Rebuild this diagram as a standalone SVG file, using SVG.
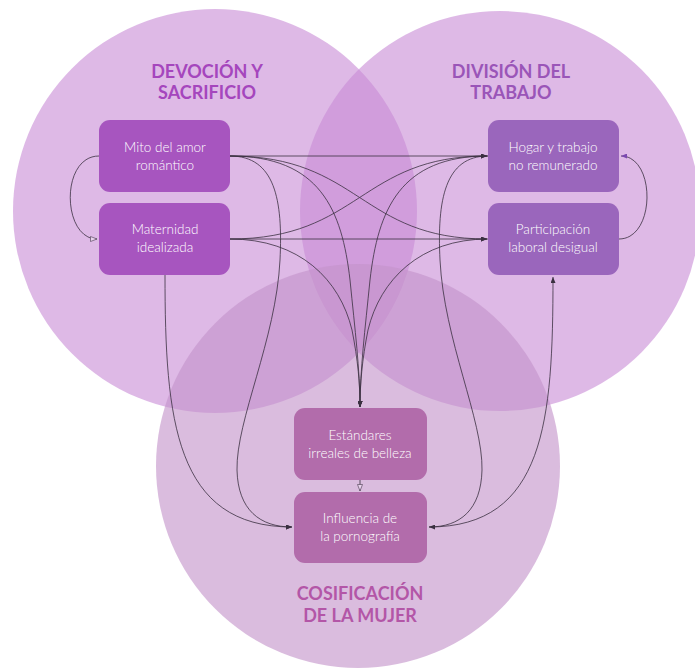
<svg xmlns="http://www.w3.org/2000/svg" width="695" height="669" viewBox="0 0 695 669">
<style>
.c1{fill:#c88ad6;opacity:0.6}
.c2{fill:#c88ad6;opacity:0.6}
.c3{fill:#c493c9;opacity:0.62}
.title{font-family:Lato,"Liberation Sans",sans-serif;font-weight:700;font-size:18px;text-anchor:middle}
.lbl{font-family:Lato,"Liberation Sans",sans-serif;font-weight:300;font-size:13.5px;fill:#ffffff;text-anchor:middle}
.ln{fill:none;stroke:#3a3040;stroke-width:0.8}
</style>
<defs>
<marker id="ah" viewBox="0 0 6 5" refX="6" refY="2.5" markerWidth="6" markerHeight="5" markerUnits="userSpaceOnUse" orient="auto"><path d="M0,0 L6,2.5 L0,5 z" fill="#3a3040"/></marker>
<marker id="ahp" viewBox="0 0 6 5" refX="6" refY="2.5" markerWidth="6" markerHeight="5" markerUnits="userSpaceOnUse" orient="auto"><path d="M0,0 L6,2.5 L0,5 z" fill="#7b48b0"/></marker>
<marker id="aho" viewBox="0 0 8 6" refX="7" refY="3" markerWidth="8" markerHeight="6" markerUnits="userSpaceOnUse" orient="auto"><path d="M0.5,0.5 L7,3 L0.5,5.5 z" fill="#ead3ee" stroke="#5a4a60" stroke-width="0.7"/></marker>
</defs>
<rect width="695" height="669" fill="#ffffff"/>
<g id="circles">
<circle class="c1" cx="215" cy="211" r="202"/>
<circle class="c2" cx="500" cy="211" r="200"/>
<circle class="c3" cx="358" cy="466" r="202"/>
</g>
<g id="titles">
<text class="title" x="207" y="78" fill="#a546bd">DEVOCIÓN Y</text>
<text class="title" x="207" y="99" fill="#a546bd">SACRIFICIO</text>
<text class="title" x="511" y="78" fill="#9a55b8">DIVISIÓN DEL</text>
<text class="title" x="511" y="99" fill="#9a55b8">TRABAJO</text>
<text class="title" x="360" y="600" fill="#b356a7">COSIFICACIÓN</text>
<text class="title" x="360" y="622" fill="#b356a7">DE LA MUJER</text>
</g>
<g id="connectors">
<path class="ln" d="M230,156 L487,156" marker-end="url(#ah)"/>
<path class="ln" d="M230,156 C360,156 360,239 487,239" marker-end="url(#ah)"/>
<path class="ln" d="M230,239 C360,239 360,156 487,156" marker-end="url(#ah)"/>
<path class="ln" d="M230,239 L487,239" marker-end="url(#ah)"/>
<path class="ln" d="M230,156 C320,156 342,210 350,280 C355,330 360,370 360,407" marker-end="url(#ah)"/>
<path class="ln" d="M230,239 C300,239 340,280 352,330 C358,360 360,385 360,407" marker-end="url(#ah)"/>
<path class="ln" d="M488,156 C400,156 378,210 370,280 C365,330 360,370 360,407" marker-end="url(#ah)"/>
<path class="ln" d="M488,239 C420,239 380,280 368,330 C362,360 360,385 360,407" marker-end="url(#ah)"/>
<path class="ln" d="M230,156 C275,156 283,200 280,260 C276,340 236,420 237,470 C238,510 260,527 292,527" marker-end="url(#ah)"/>
<path class="ln" d="M165,275 C165,420 175,527 292,527" marker-end="url(#ah)"/>
<path class="ln" d="M488,156 C445,156 437,200 440,260 C444,340 483,420 482,470 C481,510 460,527 429,527" marker-end="url(#ah)"/>
<path class="ln" d="M429,527 C545,527 553,420 553,277" marker-end="url(#ah)"/>
<path class="ln" d="M99,156 C60,156 62,239 97,239" marker-end="url(#aho)"/>
<path class="ln" d="M619,239 C656,239 656,156 621,156" marker-end="url(#ahp)"/>
<path class="ln" d="M360,480 L360,491" marker-end="url(#aho)"/>
</g>
<g id="node-mito">
<rect x="99" y="120" width="131" height="72" rx="11" fill="#a755bf"/>
<text class="lbl" x="165" y="152">Mito del amor</text>
<text class="lbl" x="165" y="170">romántico</text>
</g>
<g id="node-maternidad">
<rect x="99" y="203" width="131" height="72" rx="11" fill="#a755bf"/>
<text class="lbl" x="165" y="234">Maternidad</text>
<text class="lbl" x="165" y="252">idealizada</text>
</g>
<g id="node-hogar">
<rect x="488" y="120" width="131" height="72" rx="11" fill="#9a66bc"/>
<text class="lbl" x="553" y="152">Hogar y trabajo</text>
<text class="lbl" x="553" y="170">no remunerado</text>
</g>
<g id="node-participacion">
<rect x="488" y="203" width="131" height="72" rx="11" fill="#9a66bc"/>
<text class="lbl" x="553" y="234">Participación</text>
<text class="lbl" x="553" y="252">laboral desigual</text>
</g>
<g id="node-estandares">
<rect x="294" y="408" width="133" height="72" rx="11" fill="#b26cab"/>
<text class="lbl" x="360" y="440">Estándares</text>
<text class="lbl" x="360" y="458">irreales de belleza</text>
</g>
<g id="node-influencia">
<rect x="294" y="492" width="133" height="71" rx="11" fill="#b26cab"/>
<text class="lbl" x="360" y="523">Influencia de</text>
<text class="lbl" x="360" y="541">la pornografía</text>
</g>
</svg>
